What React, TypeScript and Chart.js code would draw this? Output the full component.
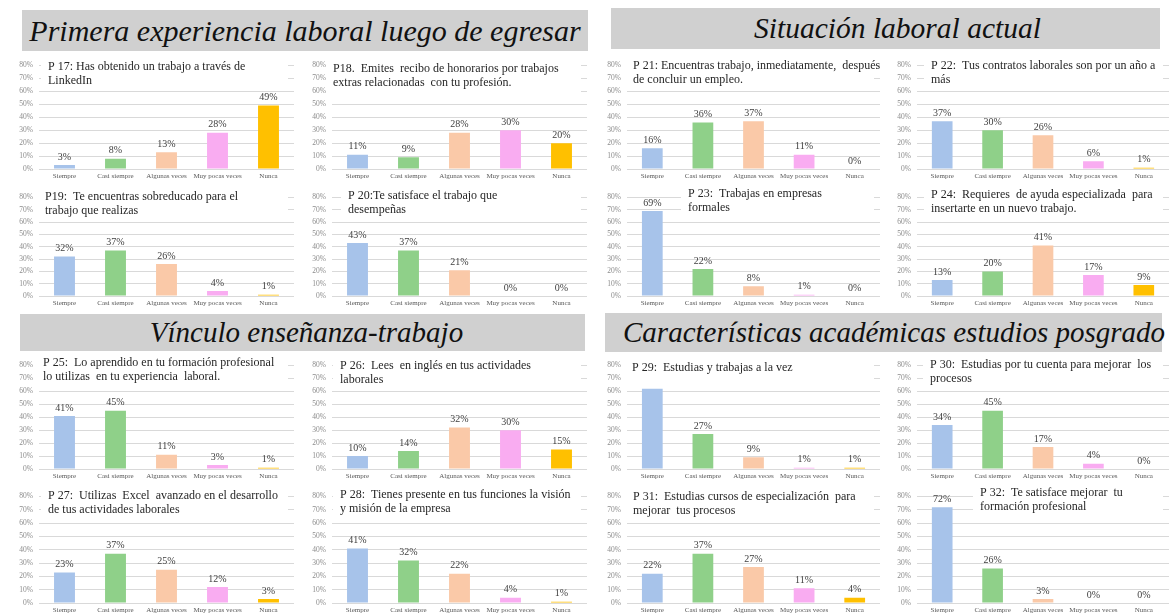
import React, { useEffect, useRef } from "react";
import { Chart, registerables } from "chart.js";
Chart.register(...registerables);

// ---------- DATA ----------
const categories = ["Siempre", "Casi siempre", "Algunas veces", "Muy pocas veces", "Nunca"];
const yMax = 80;
const yStep = 10;

const p17 = [3, 8, 13, 28, 49];
const p18 = [11, 9, 28, 30, 20];
const p19 = [32, 37, 26, 4, 1];
const p20 = [43, 37, 21, 0, 0];
const p21 = [16, 36, 37, 11, 0];
const p22 = [37, 30, 26, 6, 1];
const p23 = [69, 22, 8, 1, 0];
const p24 = [13, 20, 41, 17, 9];
const p25 = [41, 45, 11, 3, 1];
const p26 = [10, 14, 32, 30, 15];
const p27 = [23, 37, 25, 12, 3];
const p28 = [41, 32, 22, 4, 1];
const p29 = [62, 27, 9, 1, 1];
const p30 = [34, 45, 17, 4, 0];
const p31 = [22, 37, 27, 11, 4];
const p32 = [72, 26, 3, 0, 0];

const sectionTitles = [
  "Primera experiencia laboral luego de egresar",
  "Situación laboral actual",
  "Vínculo enseñanza-trabajo",
  "Características académicas estudios posgrado",
];

const t17 = ["P 17: Has obtenido un trabajo a través de", "LinkedIn"];
const t18 = ["P18.  Emites  recibo de honorarios por trabajos", "extras relacionadas  con tu profesión."];
const t19 = ["P19:  Te encuentras sobreducado para el", "trabajo que realizas"];
const t20 = ["P 20:Te satisface el trabajo que", "desempeñas"];
const t21 = ["P 21: Encuentras trabajo, inmediatamente,  después", "de concluir un empleo."];
const t22 = ["P 22:  Tus contratos laborales son por un año a", "más"];
const t23 = ["P 23:  Trabajas en empresas", "formales"];
const t24 = ["P 24:  Requieres  de ayuda especializada  para", "insertarte en un nuevo trabajo."];
const t25 = ["P 25:  Lo aprendido en tu formación profesional", "lo utilizas  en tu experiencia  laboral."];
const t26 = ["P 26:  Lees  en inglés en tus actividades", "laborales"];
const t27 = ["P 27:  Utilizas  Excel  avanzado en el desarrollo", "de tus actividades laborales"];
const t28 = ["P 28:  Tienes presente en tus funciones la visión", "y misión de la empresa"];
const t29 = ["P 29:  Estudias y trabajas a la vez"];
const t30 = ["P 30:  Estudias por tu cuenta para mejorar  los", "procesos"];
const t31 = ["P 31:  Estudias cursos de especialización  para", "mejorar  tus procesos"];
const t32 = ["P 32:  Te satisface mejorar  tu", "formación profesional"];

// ---------- STYLE / LAYOUT ----------
const barColors = ["#A7C3EA", "#8FD089", "#FAC9A8", "#F9ACF1", "#FFC000"];
const SERIF = "'Liberation Serif', 'Times New Roman', serif";
const Y_AXIS_W = 28;
const X_AXIS_H = 13;
const PAD_TOP = 6;

const cols = [
  { l: 38.5, r: 293.5 },
  { l: 331.5, r: 586.5 },
  { l: 627, r: 880 },
  { l: 916.5, r: 1169 },
];
const rows = [
  { t: 61, b: 169 },
  { t: 193, b: 296 },
  { t: 361, b: 469 },
  { t: 492, b: 603 },
];

const panels = [
  { v: p17, lines: t17, c: 0, r: 0, tx: 48, ty: 67 },
  { v: p18, lines: t18, c: 1, r: 0, tx: 333, ty: 69 },
  { v: p19, lines: t19, c: 0, r: 1, tx: 45, ty: 197 },
  { v: p20, lines: t20, c: 1, r: 1, tx: 348, ty: 196 },
  { v: p21, lines: t21, c: 2, r: 0, tx: 633, ty: 66 },
  { v: p22, lines: t22, c: 3, r: 0, tx: 931, ty: 66 },
  { v: p23, lines: t23, c: 2, r: 1, tx: 688, ty: 194 },
  { v: p24, lines: t24, c: 3, r: 1, tx: 931, ty: 195 },
  { v: p25, lines: t25, c: 0, r: 2, tx: 43, ty: 363 },
  { v: p26, lines: t26, c: 1, r: 2, tx: 340, ty: 366 },
  { v: p29, lines: t29, c: 2, r: 2, tx: 632, ty: 368 },
  { v: p30, lines: t30, c: 3, r: 2, tx: 930, ty: 365 },
  { v: p27, lines: t27, c: 0, r: 3, tx: 48, ty: 496 },
  { v: p28, lines: t28, c: 1, r: 3, tx: 340, ty: 495 },
  { v: p31, lines: t31, c: 2, r: 3, tx: 633, ty: 497 },
  { v: p32, lines: t32, c: 3, r: 3, tx: 980, ty: 493 },
];

const banners = [
  { text: sectionTitles[0], left: 22, top: 10, width: 566, height: 41, size: 30, shift: 0 },
  { text: sectionTitles[1], left: 611, top: 8, width: 549, height: 41, size: 29.5, shift: 24 },
  { text: sectionTitles[2], left: 20, top: 314, width: 565, height: 37, size: 29, shift: 8 },
  { text: sectionTitles[3], left: 605, top: 313, width: 557, height: 39, size: 29, shift: 18 },
];

function Panel(props: { v: number[]; lines: string[]; c: number; r: number; tx: number; ty: number }) {
  const { v, lines, c, r, tx, ty } = props;
  const ref = useRef<HTMLCanvasElement>(null);
  const col = cols[c];
  const row = rows[r];
  const left = Math.round(col.l - Y_AXIS_W);
  const top = Math.round(row.t - PAD_TOP);
  const width = Math.round(col.r - left);
  const height = Math.round(row.b + X_AXIS_H - top);

  useEffect(() => {
    const labelPlugin = {
      id: "barLabels",
      afterDatasetsDraw(chart: any) {
        const ctx = chart.ctx;
        const meta = chart.getDatasetMeta(0);
        ctx.save();
        ctx.font = `10px ${SERIF}`;
        ctx.fillStyle = "#404040";
        ctx.textAlign = "center";
        ctx.textBaseline = "bottom";
        meta.data.forEach((el: any, i: number) => {
          ctx.fillText(`${v[i]}%`, el.x, el.y - 3);
        });
        ctx.restore();
      },
    };
    const titlePlugin = {
      id: "panelTitle",
      afterDraw(chart: any) {
        const ctx = chart.ctx;
        const ca = chart.chartArea;
        const x = tx - left;
        const y = ty - top;
        const lh = 14;
        const bx = Math.max(ca.left - 2, x - 7);
        const by = y - 8;
        const bw = ca.right - 6 - bx;
        const bh = lines.length === 1 ? 24 : 31;
        ctx.save();
        ctx.fillStyle = "#ffffff";
        ctx.fillRect(bx, by, bw, bh);
        ctx.font = `12px ${SERIF}`;
        ctx.fillStyle = "#262626";
        ctx.textAlign = "left";
        ctx.textBaseline = "middle";
        lines.forEach((ln, i) => ctx.fillText(ln, x, y + i * lh));
        ctx.restore();
      },
    };
    const chart = new Chart(ref.current as HTMLCanvasElement, {
      type: "bar",
      data: {
        labels: categories,
        datasets: [
          {
            data: v,
            backgroundColor: barColors,
            barPercentage: 0.41,
            categoryPercentage: 1,
          },
        ],
      },
      options: {
        responsive: false,
        maintainAspectRatio: false,
        animation: false,
        layout: { padding: { top: PAD_TOP, left: 0, right: 0, bottom: 0 } },
        plugins: {
          legend: { display: false },
          tooltip: { enabled: false },
          title: { display: false },
        },
        scales: {
          x: {
            grid: { display: false, drawTicks: false },
            border: { display: false },
            ticks: {
              font: { size: 7, family: SERIF },
              color: "#595959",
              padding: 3,
              maxRotation: 0,
              autoSkip: false,
            },
            afterFit: (s: any) => {
              s.height = X_AXIS_H;
            },
          },
          y: {
            min: 0,
            max: yMax,
            ticks: {
              stepSize: yStep,
              callback: (val: any) => `${val}%`,
              font: { size: 7.5, family: SERIF },
              color: "#8c8c8c",
              padding: 6,
            },
            grid: { color: "#d9d9d9", drawTicks: false, lineWidth: 1 },
            border: { display: false },
            afterFit: (s: any) => {
              s.width = Y_AXIS_W;
            },
          },
        },
      } as any,
      plugins: [labelPlugin, titlePlugin],
    });
    return () => chart.destroy();
  }, []);

  return (
    <canvas
      ref={ref}
      width={width}
      height={height}
      style={{ position: "absolute", left, top, width, height }}
    />
  );
}

export default function App() {
  return (
    <div
      style={{
        position: "fixed",
        left: 0,
        top: 0,
        width: 1169,
        height: 613,
        background: "#ffffff",
        overflow: "hidden",
      }}
    >
      {banners.map((b, i) => (
        <div
          key={i}
          style={{
            position: "absolute",
            left: b.left,
            top: b.top,
            width: b.width,
            height: b.height,
            background: "#D0D0D0",
            color: "#111",
            fontFamily: SERIF,
            fontStyle: "italic",
            fontSize: b.size,
            lineHeight: `${b.height}px`,
            textAlign: "center",
            whiteSpace: "nowrap",
            boxSizing: "border-box",
            paddingLeft: b.shift,
          }}
        >
          {b.text}
        </div>
      ))}
      {panels.map((p, i) => (
        <Panel key={i} {...p} />
      ))}
    </div>
  );
}
